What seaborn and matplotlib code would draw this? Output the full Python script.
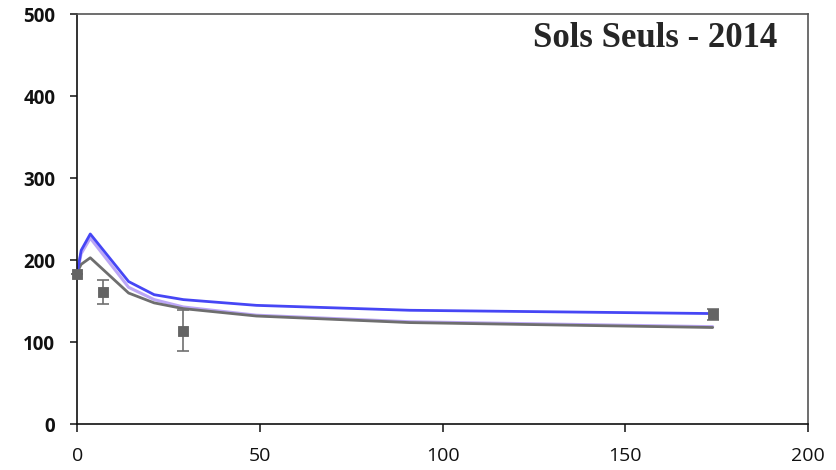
import matplotlib
matplotlib.use("Agg")
import matplotlib.pyplot as plt
import seaborn as sns
import pandas as pd
import numpy as np

# Model curves
t_model = [0, 1, 3.5, 14, 21, 29, 49, 91, 174]
blue_vals = [186, 212, 232, 174, 158, 152, 145, 139, 135]
purple_vals = [186, 208, 227, 167, 152, 143, 133, 125, 119]
gray_vals = [186, 195, 203, 160, 148, 141, 132, 124, 118]

# Observations
t_obs = [0, 7, 29, 174]
obs_vals = [183, 161, 114, 134]
obs_err = [0, 14.5, 25, 7]

title = "Sols Seuls - 2014"
x_ticks = [0, 50, 100, 150, 200]
y_ticks = [0, 100, 200, 300, 400, 500]

sns.set_style("white")
plt.rcParams['font.family'] = ['Open Sans', 'DejaVu Sans']

fig = plt.figure(figsize=(8.36, 4.70), dpi=100)
ax = fig.add_axes([0.0927, 0.0972, 0.8733, 0.8728])

df = pd.DataFrame({"t": t_model * 3,
                   "v": blue_vals + purple_vals + gray_vals,
                   "s": ["blue"] * len(t_model) + ["purple"] * len(t_model) + ["gray"] * len(t_model)})
sns.lineplot(data=df[df.s == "purple"], x="t", y="v", color="#b49cf5", lw=2.2, alpha=0.9, ax=ax, legend=False)
sns.lineplot(data=df[df.s == "gray"], x="t", y="v", color="#6e6e6e", lw=2.0, ax=ax, legend=False)
sns.lineplot(data=df[df.s == "blue"], x="t", y="v", color="#4646f5", lw=2.0, ax=ax, legend=False)

ax.errorbar(t_obs, obs_vals, yerr=obs_err, fmt="none", ecolor="#707070", elinewidth=1.2,
            capsize=4, capthick=1.2, zorder=4, clip_on=False)
sns.scatterplot(x=t_obs, y=obs_vals, marker="s", s=60, color="#646464", edgecolor="#646464",
                ax=ax, zorder=5, clip_on=False)

ax.set_xlim(0, 200)
ax.set_ylim(0, 500)
ax.set_xticks(x_ticks)
ax.set_yticks(y_ticks)
ax.set_xticklabels([str(v) for v in x_ticks], fontsize=14, color="#222222")
ax.set_yticklabels([str(v) for v in y_ticks], fontsize=13.5, fontweight="bold", color="#111111")
ax.set_xlabel("")
ax.set_ylabel("")
ax.tick_params(axis="both", which="major", direction="out", length=5, width=1.1,
               colors="#111111", bottom=True, left=True, top=False, right=False)
ax.tick_params(axis="y", pad=11)
ax.tick_params(axis="x", pad=10, length=6)

for side in ["left", "bottom"]:
    ax.spines[side].set_color("#111111")
    ax.spines[side].set_linewidth(1.2)
for side in ["top", "right"]:
    ax.spines[side].set_color("#555555")
    ax.spines[side].set_linewidth(1.2)
    ax.spines[side].set_visible(True)

ax.text(0.959, 0.94, title, transform=ax.transAxes, ha="right", va="center",
        fontsize=25, fontweight="bold", family=["Liberation Serif", "DejaVu Serif"])

fig.savefig("out.png", dpi=100)
